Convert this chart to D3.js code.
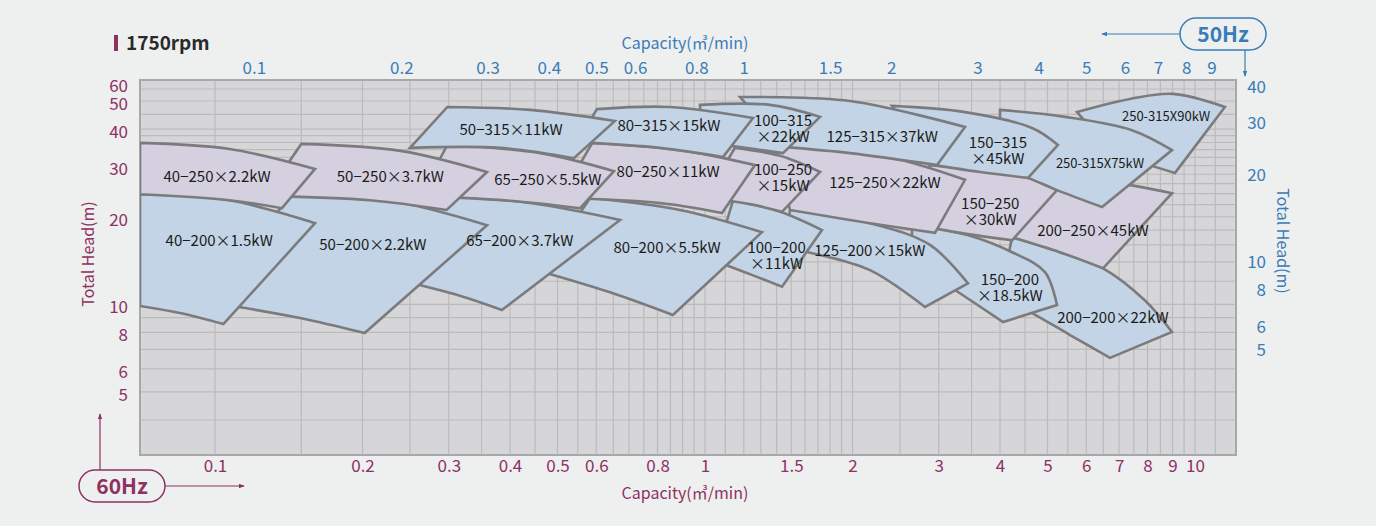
<!DOCTYPE html>
<html>
<head>
<meta charset="utf-8">
<script src="https://cdn.jsdelivr.net/npm/d3@7"></script>
<style>
  html, body { margin: 0; padding: 0; background: #eeefef; }
  svg { display: block; font-family: "Noto Sans CJK KR", "Noto Sans", sans-serif; }
</style>
</head>
<body>
<svg id="chart" width="1376" height="526"></svg>
<script>
// capacity ticks: bottom axis is 60Hz, top axis is 50Hz (m3/min)
const capTicks60 = [0.1, 0.2, 0.3, 0.4, 0.5, 0.6, 0.8, 1, 1.5, 2, 3, 4, 5, 6, 7, 8, 9, 10];
const capTicks50 = [0.1, 0.2, 0.3, 0.4, 0.5, 0.6, 0.8, 1, 1.5, 2, 3, 4, 5, 6, 7, 8, 9];
// head ticks: left axis is 60Hz, right axis is 50Hz (m)
const headTicks60 = [60, 50, 40, 30, 20, 10, 8, 6, 5];
const headTicks50 = [40, 30, 20, 10, 8, 6, 5];
// grid lines
const capGrid = [0.1, 0.15, 0.2, 0.25, 0.3, 0.35, 0.4, 0.45, 0.5, 0.55, 0.6, 0.65, 0.7, 0.75, 0.8, 0.85, 0.9, 0.95,
  1, 1.1, 1.2, 1.3, 1.4, 1.5, 1.6, 1.7, 1.8, 1.9, 2, 2.5, 3, 3.5, 4, 4.5, 5, 5.5, 6, 6.5, 7, 7.5, 8, 8.5, 9, 9.5, 10, 11];
const headGrid = [4, 5, 6, 7, 8, 9, 10, 12, 14, 16, 18, 20, 22, 24, 26, 28, 30, 32, 34, 36, 38, 40, 45, 50, 55];

// pump selection areas (60Hz values: [capacity, head])
const pumpNames = [
  ["40−200×1.5kW"], ["50−200×2.2kW"], ["65−200×3.7kW"], ["80−200×5.5kW"],
  ["100−200", "×11kW"], ["125−200×15kW"], ["150−200", "×18.5kW"], ["200−200×22kW"],
  ["40−250×2.2kW"], ["50−250×3.7kW"], ["65−250×5.5kW"], ["80−250×11kW"],
  ["100−250", "×15kW"], ["125−250×22kW"], ["150−250", "×30kW"], ["200−250×45kW"],
  ["50−315×11kW"], ["80−315×15kW"], ["100−315", "×22kW"], ["125−315×37kW"],
  ["150−315", "×45kW"], ["250-315X75kW"], ["250-315X90kW"]
];
const pumpFrame = [200, 200, 200, 200, 200, 200, 200, 200,
  250, 250, 250, 250, 250, 250, 250, 250,
  315, 315, 315, 315, 315, 315, 315];
// upper curve, left to right
const pumpTop = [
  [[0.0703, 23.9], [0.107, 22.8], [0.160, 19.0]],
  [[0.142, 23.8], [0.228, 22.7], [0.359, 18.7]],
  [[0.288, 23.6], [0.440, 22.3], [0.671, 19.5]],
  [[0.583, 23.2], [0.889, 21.1], [1.307, 17.7]],
  [[1.141, 22.8], [1.423, 20.8], [1.733, 18.0]],
  [[1.491, 21.1], [2.171, 19.0], [2.878, 16.0], [3.441, 11.8]],
  [[2.645, 18.9], [3.474, 17.2], [4.233, 15.1], [4.942, 12.9], [5.228, 9.94]],
  [[4.233, 17.0], [5.302, 15.1], [6.491, 13.3], [7.907, 10.3], [8.976, 8.03]],
  [[0.0703, 35.9], [0.107, 34.2], [0.160, 29.2]],
  [[0.150, 35.6], [0.239, 33.7], [0.359, 28.5]],
  [[0.298, 35.3], [0.461, 33.1], [0.652, 28.7]],
  [[0.589, 35.9], [0.889, 33.9], [1.265, 30.1]],
  [[1.151, 34.5], [1.423, 32.4], [1.717, 28.5]],
  [[1.390, 35.3], [2.276, 32.6], [3.393, 26.8]],
  [[2.878, 30.1], [4.563, 27.2], [5.228, 24.7]],
  [[4.827, 27.2], [6.707, 26.3], [8.976, 24.1]],
  [[0.298, 47.7], [0.440, 46.6], [0.655, 42.7]],
  [[0.602, 46.9], [0.848, 47.7], [1.253, 43.7]],
  [[0.977, 48.5], [1.357, 48.5], [1.717, 44.1]],
  [[1.179, 51.6], [1.976, 50.0], [3.393, 40.7]],
  [[2.408, 48.1], [3.393, 45.8], [4.650, 40.4], [5.252, 35.3]],
  [[4.0, 46.6], [5.428, 44.1], [7.436, 39.7], [8.976, 33.9]],
  [[5.746, 45.8], [7.366, 50.8], [9.018, 52.9], [11.51, 47.7]]
];
// lower curve, right to left
const pumpBottom = [
  [[0.104, 8.55], [0.0848, 9.33], [0.0703, 9.87]],
  [[0.202, 7.96], [0.149, 8.97], [0.100, 10.1]],
  [[0.385, 9.56], [0.316, 10.7], [0.239, 12.1]],
  [[0.860, 9.19], [0.640, 11.0], [0.461, 13.0]],
  [[1.436, 11.5], [1.265, 12.5], [1.048, 14.1]],
  [[2.812, 9.79], [2.171, 13.1], [1.623, 15.1], [1.457, 15.6]],
  [[4.058, 8.69], [3.237, 11.2], [2.645, 14.0]],
  [[6.707, 6.54], [5.559, 7.84], [4.650, 9.33], [4.0, 10.6]],
  [[0.137, 21.4], [0.107, 22.8], [0.0703, 23.9]],
  [[0.297, 21.1], [0.207, 22.8], [0.127, 23.6]],
  [[0.556, 21.4], [0.400, 22.7], [0.262, 23.6]],
  [[1.083, 20.6], [0.809, 22.3], [0.506, 23.2]],
  [[1.436, 20.8], [1.235, 22.1], [1.0, 23.2]],
  [[2.947, 17.6], [2.171, 19.0], [1.491, 21.1]],
  [[4.233, 16.6], [3.314, 17.6], [2.645, 18.9]],
  [[6.491, 13.3], [5.302, 15.1], [4.233, 17.0]],
  [[0.540, 31.8], [0.382, 34.5], [0.250, 34.5]],
  [[1.088, 32.1], [0.809, 34.5], [0.548, 36.1]],
  [[1.443, 33.1], [1.179, 34.7], [0.977, 36.1]],
  [[2.975, 30.1], [1.976, 33.1], [1.457, 34.7]],
  [[4.563, 27.2], [3.641, 28.5], [2.947, 30.1]],
  [[6.461, 21.6], [5.228, 24.7], [4.563, 27.2], [4.0, 29.4]],
  [[9.103, 28.3], [8.094, 30.1], [6.707, 33.9]]
];
const pumpLabelAt = [
  [0.102, 16.5], [0.210, 16.0], [0.419, 16.5], [0.837, 15.7], [1.40, 14.7], [2.17, 15.3], [4.19, 11.4], [6.80, 8.97],
  [0.101, 27.4], [0.228, 27.4], [0.478, 26.8], [0.841, 28.5], [1.443, 27.2], [2.33, 26.1], [3.82, 20.8], [6.19, 17.9],
  [0.402, 39.7], [0.844, 41.0], [1.443, 40.1], [2.30, 37.6], [3.96, 33.7], [6.40, 30.6], [8.73, 44.1]
];

const maroon = "#8e3162";
const blue = "#3a7cb8";
const fills = { 200: "#c2d4e5", 250: "#d4d0e0", 315: "#c2d4e5" };

const plot = { left: 140, right: 1236, top: 80, bottom: 455 };

const x = d3.scaleLog().domain([0.1, 10]).range([215, 1195]);
const y = d3.scaleLog().domain([4, 40]).range([420, 129.2]);
// 50Hz axes: capacity x1.2, head x1.44 compared to 60Hz
const x50 = x.copy().domain(x.domain().map(d => d / 1.2));
const y50 = y.copy().domain(y.domain().map(d => d / 1.44));

const svg = d3.select("#chart");

svg.append("rect").attr("width", 1376).attr("height", 526).attr("fill", "#eeefef");

// plot background + grid
svg.append("rect")
  .attr("x", plot.left).attr("y", plot.top)
  .attr("width", plot.right - plot.left).attr("height", plot.bottom - plot.top)
  .attr("fill", "#d6d6d8");

const grid = svg.append("g").attr("stroke", "#bbbbbe").attr("stroke-width", 1.2);
grid.selectAll("line.v").data(capGrid).join("line")
  .attr("class", "v")
  .attr("x1", d => x(d)).attr("x2", d => x(d))
  .attr("y1", plot.top).attr("y2", plot.bottom);
grid.selectAll("line.h").data(headGrid).join("line")
  .attr("class", "h")
  .attr("y1", d => y(d)).attr("y2", d => y(d))
  .attr("x1", plot.left).attr("x2", plot.right);

svg.append("rect")
  .attr("x", plot.left).attr("y", plot.top)
  .attr("width", plot.right - plot.left).attr("height", plot.bottom - plot.top)
  .attr("fill", "none").attr("stroke", "#a8a8ab").attr("stroke-width", 2);

svg.append("clipPath").attr("id", "clip")
  .append("rect")
  .attr("x", plot.left).attr("y", plot.top)
  .attr("width", plot.right - plot.left).attr("height", plot.bottom - plot.top);

// pump areas
const curve = d3.line()
  .x(d => x(d[0])).y(d => y(d[1]))
  .curve(d3.curveCatmullRom.alpha(0.5));

function outline(i) {
  const t = curve(pumpTop[i]);
  const b = curve(pumpBottom[i]);
  return t + "L" + b.slice(1) + "Z";
}

// lower rows first, and within a row the right-hand area goes under its left neighbour
const rowRank = { 200: 0, 250: 1, 315: 2 };
const order = d3.range(pumpNames.length)
  .sort((a, b) => rowRank[pumpFrame[a]] - rowRank[pumpFrame[b]] || b - a);

svg.append("g").attr("clip-path", "url(#clip)")
  .selectAll("path").data(order).join("path")
  .attr("d", i => outline(i))
  .attr("fill", i => fills[pumpFrame[i]])
  .attr("stroke", "#7b7b7e")
  .attr("stroke-width", 2.6)
  .attr("stroke-linejoin", "miter");

const labels = svg.append("g")
  .attr("fill", "#1b1b1b")
  .attr("text-anchor", "middle");

labels.selectAll("text").data(d3.range(pumpNames.length)).join("text")
  .attr("x", i => x(pumpLabelAt[i][0]))
  .attr("y", i => y(pumpLabelAt[i][1]))
  .attr("font-size", i => pumpNames[i][0].includes("X") ? 13 : 15)
  .each(function (i) {
    const lines = pumpNames[i];
    const t = d3.select(this);
    lines.forEach((s, k) => {
      t.append("tspan")
        .attr("x", x(pumpLabelAt[i][0]))
        .attr("dy", k === 0 ? `${0.35 - (lines.length - 1) * 0.54}em` : "1.08em")
        .text(s);
    });
  });

// axes
function styleAxis(g, color) {
  g.select(".domain").remove();
  g.selectAll("text")
    .attr("fill", color)
    .attr("font-size", 17)
    .attr("font-family", "\"Noto Sans CJK KR\", \"Noto Sans\", sans-serif");
}

svg.append("g")
  .attr("transform", `translate(0,${plot.bottom})`)
  .call(d3.axisBottom(x).tickValues(capTicks60).tickSize(0).tickPadding(5).tickFormat(d => d))
  .call(g => styleAxis(g, maroon));

svg.append("g")
  .attr("transform", `translate(0,${plot.top})`)
  .call(d3.axisTop(x50).tickValues(capTicks50).tickSize(0).tickPadding(6).tickFormat(d => d))
  .call(g => styleAxis(g, blue));

svg.append("g")
  .attr("transform", `translate(${plot.left},0)`)
  .call(d3.axisLeft(y).tickValues(headTicks60).tickSize(0).tickPadding(12).tickFormat(d => d))
  .call(g => styleAxis(g, maroon))
  .call(g => g.selectAll("text").attr("dy", d => d === 60 ? "0.8em" : "0.5em"));

svg.append("g")
  .attr("transform", `translate(${plot.right},0)`)
  .call(d3.axisRight(y50).tickValues(headTicks50).tickSize(0).tickFormat(d => d))
  .call(g => styleAxis(g, blue))
  .call(g => g.selectAll("text").attr("text-anchor", "end").attr("x", 30).attr("dy", "0.55em"));

// axis titles
svg.append("text")
  .attr("x", 685).attr("y", 493).attr("dy", "0.35em")
  .attr("text-anchor", "middle").attr("font-size", 16).attr("fill", maroon)
  .text("Capacity(㎥/min)");
svg.append("text")
  .attr("x", 685).attr("y", 43).attr("dy", "0.35em")
  .attr("text-anchor", "middle").attr("font-size", 16).attr("fill", blue)
  .text("Capacity(㎥/min)");
svg.append("text")
  .attr("transform", "translate(88,254) rotate(-90)").attr("dy", "0.35em")
  .attr("text-anchor", "middle").attr("font-size", 16).attr("fill", maroon)
  .text("Total Head(m)");
svg.append("text")
  .attr("transform", "translate(1283,241) rotate(90)").attr("dy", "0.35em")
  .attr("text-anchor", "middle").attr("font-size", 16).attr("fill", blue)
  .text("Total Head(m)");

// title
svg.append("rect").attr("x", 114).attr("y", 35).attr("width", 4).attr("height", 16).attr("fill", maroon);
svg.append("text")
  .attr("x", 126).attr("y", 43).attr("dy", "0.35em")
  .attr("font-size", 19).attr("font-weight", "bold").attr("fill", "#2a2a2a")
  .text("1750rpm");

// frequency badges with arrows
const defs = svg.append("defs");
[["arrBlue", blue], ["arrMaroon", maroon]].forEach(([id, c]) => {
  defs.append("marker")
    .attr("id", id).attr("viewBox", "0 0 8 8")
    .attr("refX", 7).attr("refY", 4)
    .attr("markerWidth", 5).attr("markerHeight", 5)
    .attr("orient", "auto")
    .append("path").attr("d", "M0,1L8,4L0,7Z").attr("fill", c);
});

function badge(cx, cy, label, color, arrows, marker) {
  const g = svg.append("g");
  g.append("rect")
    .attr("x", cx - 43).attr("y", cy - 16)
    .attr("width", 86).attr("height", 32).attr("rx", 16)
    .attr("fill", "none").attr("stroke", color).attr("stroke-width", 1.5);
  g.append("text")
    .attr("x", cx).attr("y", cy).attr("dy", "0.36em")
    .attr("text-anchor", "middle").attr("font-size", 21).attr("font-weight", "bold")
    .attr("fill", color).text(label);
  arrows.forEach(a => {
    g.append("line")
      .attr("x1", a[0]).attr("y1", a[1]).attr("x2", a[2]).attr("y2", a[3])
      .attr("stroke", color).attr("stroke-width", 1.2)
      .attr("marker-end", `url(#${marker})`);
  });
}

badge(1223, 34, "50Hz", blue, [[1180, 34, 1102, 34], [1245, 50, 1245, 76]], "arrBlue");
badge(122, 486, "60Hz", maroon, [[100, 470, 100, 414], [165, 486, 244, 486]], "arrMaroon");
</script>
</body>
</html>
